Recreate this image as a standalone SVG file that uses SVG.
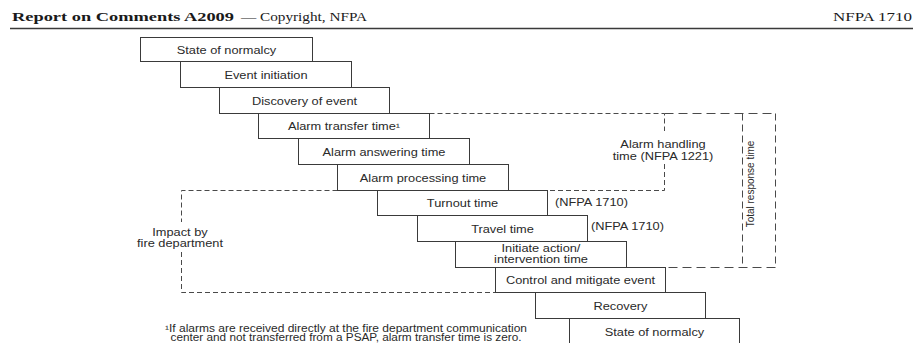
<svg xmlns="http://www.w3.org/2000/svg" width="915" height="343" viewBox="0 0 915 343">
<style>
  .bx { fill: #ffffff; stroke: #3a3a3a; stroke-width: 1; }
  .t { font-family: "Liberation Sans", Arial, sans-serif; font-size: 10px; fill: #2a2a2a; text-anchor: middle; }
  .tl { font-family: "Liberation Sans", Arial, sans-serif; font-size: 10px; fill: #2a2a2a; text-anchor: start; }
  .d1 { fill: none; stroke: #4a4a4a; stroke-width: 1; stroke-dasharray: 5 3; }
  .d2 { fill: none; stroke: #4a4a4a; stroke-width: 1; stroke-dasharray: 9 5; }
  .d3 { fill: none; stroke: #4a4a4a; stroke-width: 1; stroke-dasharray: 7 4; }
  .hdr { font-family: "Liberation Serif", "Times New Roman", serif; font-size: 13px; fill: #1a1a1a; }
</style>
<rect x="0" y="0" width="915" height="343" fill="#ffffff"/>

<g id="header">
  <text class="hdr" x="12" y="21" font-weight="bold" textLength="222" lengthAdjust="spacingAndGlyphs">Report on Comments A2009</text>
  <text class="hdr" x="241" y="21" textLength="126" lengthAdjust="spacingAndGlyphs">— Copyright, NFPA</text>
  <text class="hdr" x="833" y="21" textLength="79" lengthAdjust="spacingAndGlyphs">NFPA 1710</text>
  <line x1="10" y1="28.5" x2="913" y2="28.5" stroke="#3a3a3a" stroke-width="1.6"/>
</g>

<g id="connectors">
  <path class="d1" d="M429.5,113.5 H664.5 V131"/>
  <path class="d1" d="M664.5,164 V190.5 H508.5"/>
  <path class="d2" d="M664.5,113.5 H775.5"/>
  <path class="d3" d="M775.5,113.5 V267.5"/>
  <path class="d3" d="M742.5,113.5 V267.5"/>
  <path class="d2" d="M775.5,267.5 H626.5"/>
  <path class="d1" d="M337.5,190.5 H181.5 V222"/>
  <path class="d1" d="M181.5,252 V292.5 H495.5"/>
</g>

<g id="labels">
  <text class="t" transform="translate(663,148) scale(1.28,1)">Alarm handling</text>
  <text class="t" transform="translate(663,159.5) scale(1.28,1)">time (NFPA 1221)</text>
  <text class="t" transform="translate(753.5,184) rotate(-90)" font-size="9.4">Total response time</text>
  <text class="tl" transform="translate(555,206) scale(1.28,1)">(NFPA 1710)</text>
  <text class="tl" transform="translate(591,229.5) scale(1.28,1)">(NFPA 1710)</text>
  <text class="t" transform="translate(180,235.5) scale(1.28,1)">Impact by</text>
  <text class="t" transform="translate(180,246.5) scale(1.28,1)">fire department</text>
</g>

<g id="n1"><rect class="bx" x="140.5" y="37.5" width="172" height="24"/><text class="t" transform="translate(226.5,54) scale(1.28,1)">State of normalcy</text></g>
<g id="n2"><rect class="bx" x="180.5" y="61.5" width="171" height="26"/><text class="t" transform="translate(266,79) scale(1.28,1)">Event initiation</text></g>
<g id="n3"><rect class="bx" x="219.5" y="87.5" width="170" height="26"/><text class="t" transform="translate(304.5,104.5) scale(1.28,1)">Discovery of event</text></g>
<g id="n4"><rect class="bx" x="258.5" y="113.5" width="171" height="25"/><text class="t" transform="translate(344,130) scale(1.28,1)">Alarm transfer time¹</text></g>
<g id="n5"><rect class="bx" x="298.5" y="138.5" width="171" height="26"/><text class="t" transform="translate(384,155.5) scale(1.28,1)">Alarm answering time</text></g>
<g id="n6"><rect class="bx" x="337.5" y="164.5" width="171" height="26"/><text class="t" transform="translate(423,181.5) scale(1.28,1)">Alarm processing time</text></g>
<g id="n7"><rect class="bx" x="377.5" y="190.5" width="170" height="25"/><text class="t" transform="translate(462.5,207) scale(1.28,1)">Turnout time</text></g>
<g id="n8"><rect class="bx" x="417.5" y="215.5" width="170" height="26"/><text class="t" transform="translate(502.5,232.5) scale(1.28,1)">Travel time</text></g>
<g id="n9"><rect class="bx" x="455.5" y="241.5" width="171" height="26"/><text class="t" transform="translate(541,251.5) scale(1.28,1)">Initiate action/</text><text class="t" transform="translate(541,262.5) scale(1.28,1)">intervention time</text></g>
<g id="n10"><rect class="bx" x="495.5" y="267.5" width="170" height="25"/><text class="t" transform="translate(580.5,284) scale(1.28,1)">Control and mitigate event</text></g>
<g id="n11"><rect class="bx" x="535.5" y="292.5" width="170" height="26"/><text class="t" transform="translate(620.5,309.5) scale(1.28,1)">Recovery</text></g>
<g id="n12"><rect class="bx" x="569.5" y="318.5" width="170" height="30"/><text class="t" transform="translate(654.5,335.5) scale(1.28,1)">State of normalcy</text></g>

<g id="footnote">
  <text class="t" x="346" y="331.5" font-size="10.5" textLength="362" lengthAdjust="spacingAndGlyphs">¹If alarms are received directly at the fire department communication</text>
  <text class="t" x="346" y="341" font-size="10" textLength="351" lengthAdjust="spacingAndGlyphs">center and not transferred from a PSAP, alarm transfer time is zero.</text>
</g>
</svg>
